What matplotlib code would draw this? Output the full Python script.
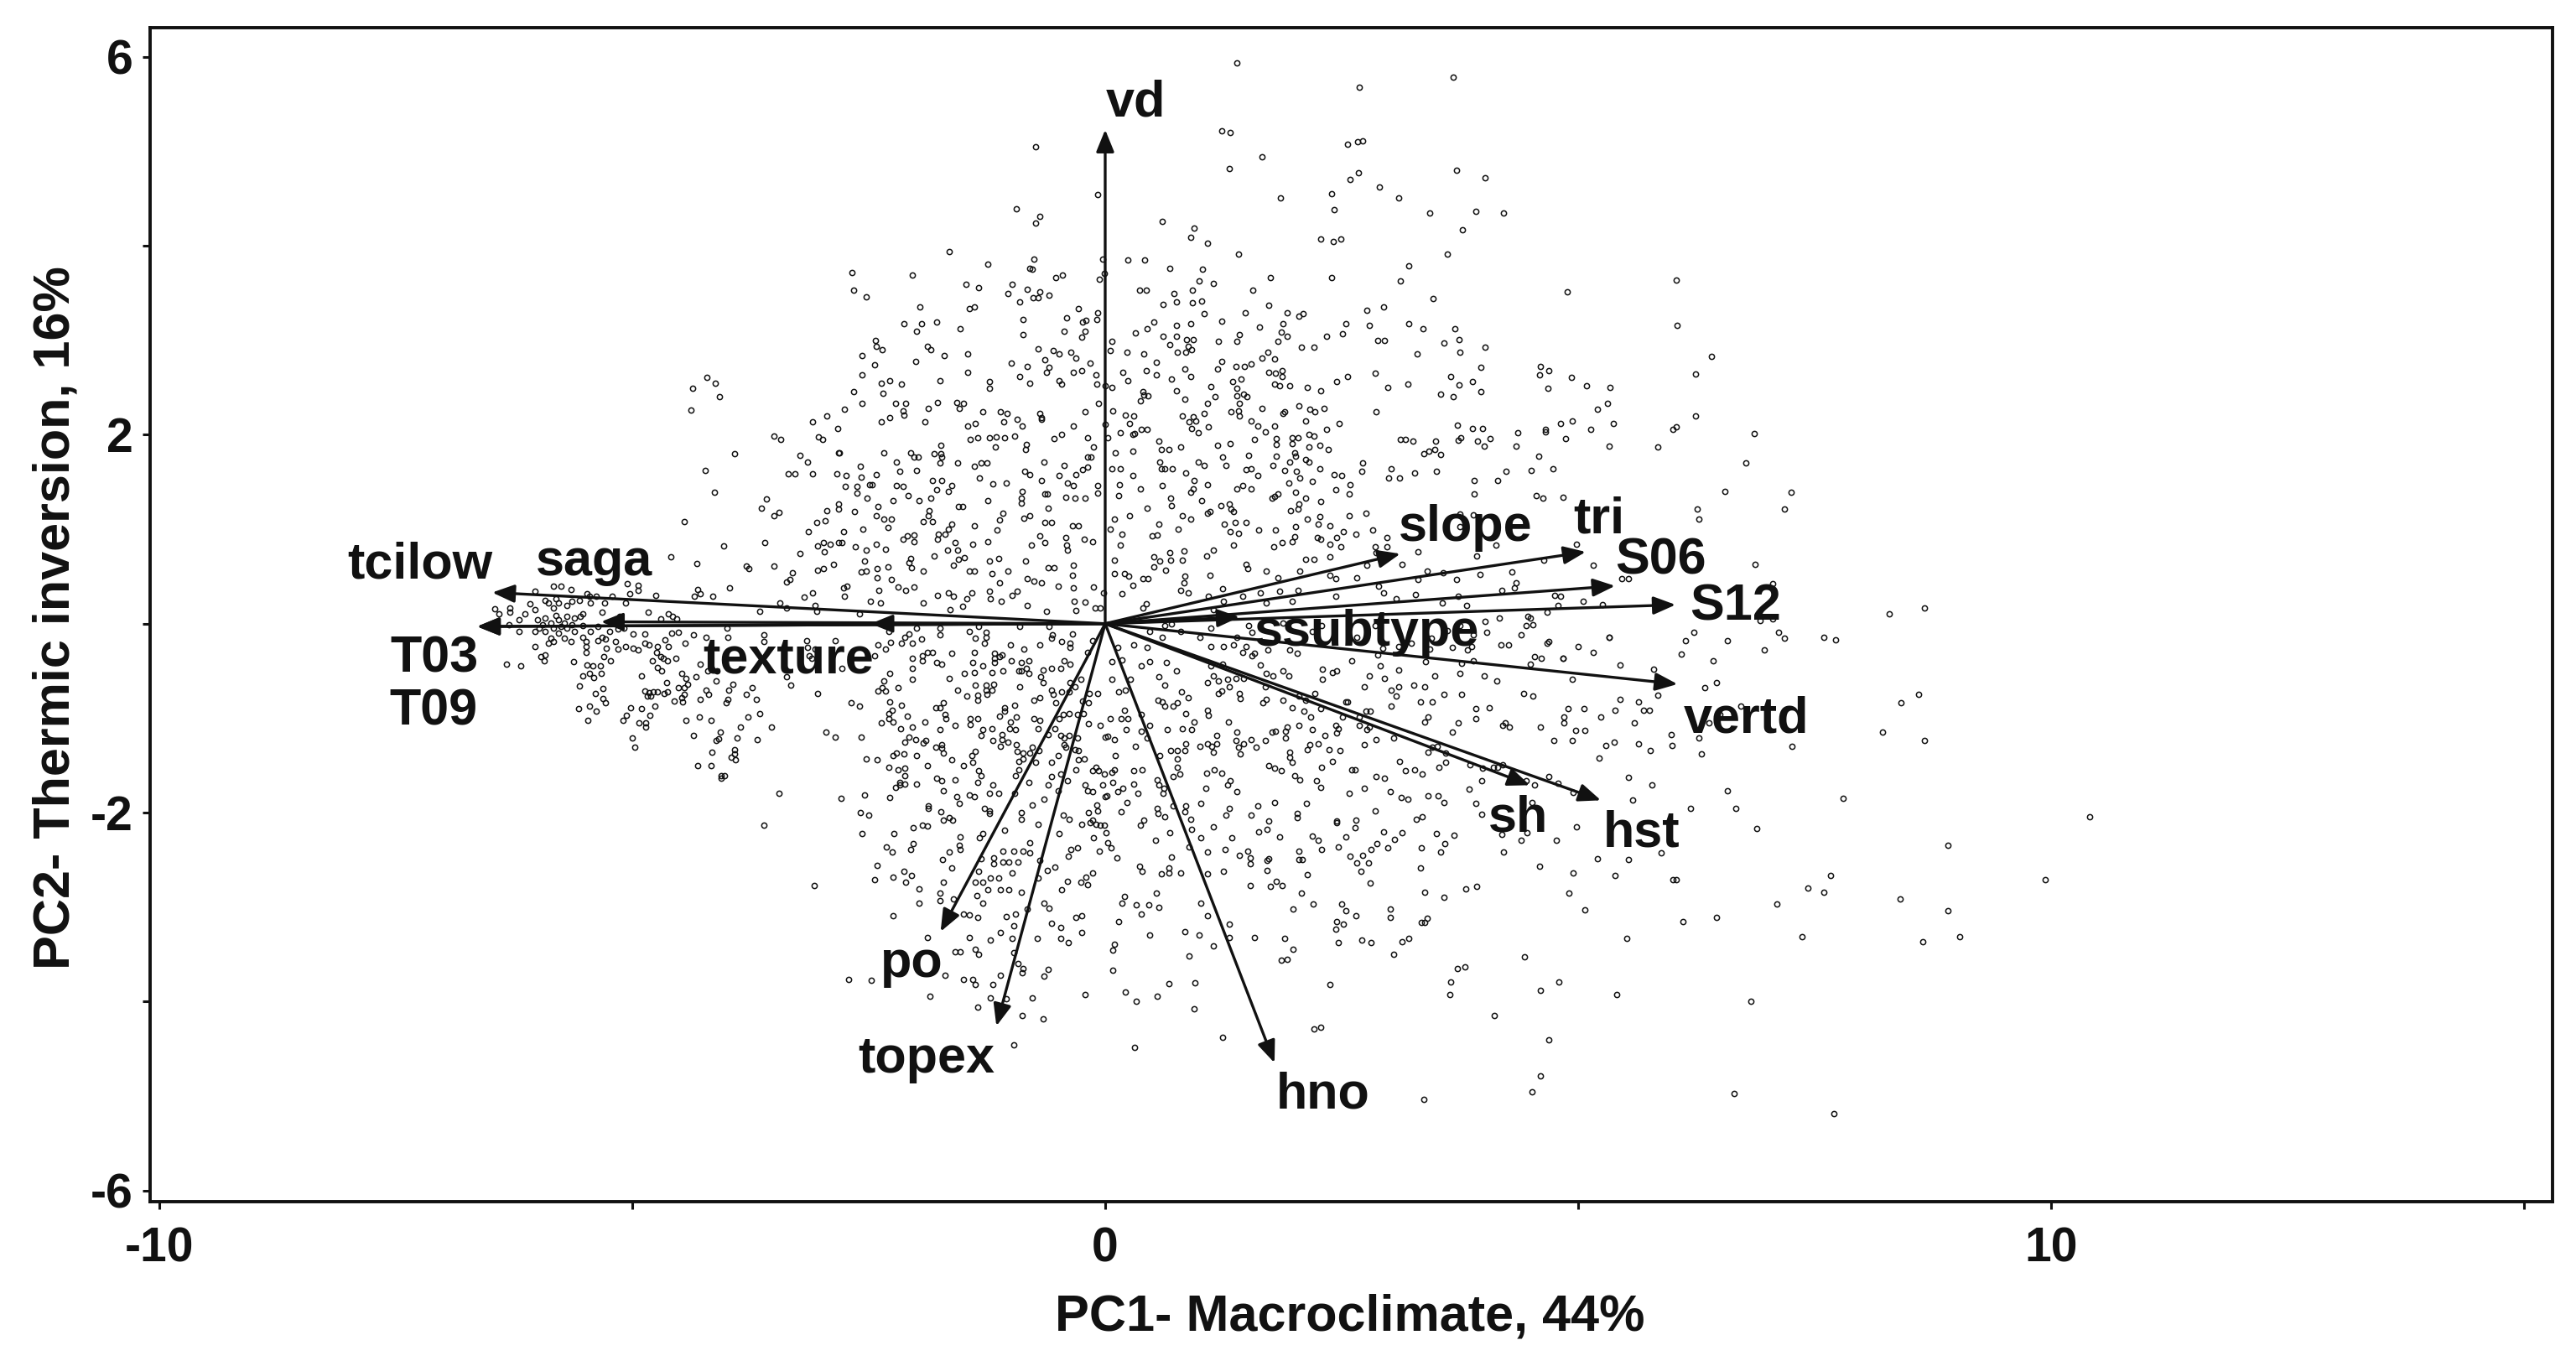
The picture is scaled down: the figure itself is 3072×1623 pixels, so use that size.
import numpy as np
import matplotlib
matplotlib.use("Agg")
import matplotlib.pyplot as plt

# Site scores (PC1, PC2), region by region
scores_top = [
(1.39,5.94),(3.68,5.79),(2.69,5.68),(-0.74,5.05),(1.23,5.22),(1.32,5.20),(2.72,5.11),(2.56,5.08),(2.67,5.10),(1.66,4.94),(1.31,4.82),(3.71,4.80),(4.02,4.72),(2.68,4.77),(2.59,4.70),(2.90,4.62),(2.39,4.55),(3.10,4.51),(1.85,4.51),(-0.08,4.54),(-0.94,4.39),(-0.69,4.31),(-0.74,4.24),(2.42,4.38),(3.43,4.35),(3.92,4.37),(4.21,4.35),(0.60,4.26),(3.78,4.17),(0.94,4.19),(0.90,4.09),(1.08,4.03),(2.28,4.07),(2.41,4.05),(2.49,4.07),(-1.65,3.94),(1.41,3.91),(3.62,3.91),(-0.03,3.86),(0.24,3.85),(0.42,3.85),(-0.75,3.86),(-1.24,3.81),(-2.04,3.69),(-2.68,3.72),(-0.80,3.76),(-0.77,3.75),(0.68,3.76),(1.03,3.75),(3.21,3.79),(3.12,3.63),(2.39,3.66),(1.75,3.66),(-0.06,3.65),(-0.01,3.71),(-0.52,3.66),(-0.45,3.69),(-2.66,3.53),(-2.53,3.46),(-1.47,3.59),(-1.34,3.56),(-0.98,3.59),(-1.03,3.50),(-0.82,3.54),(-0.69,3.51),(-0.76,3.45),(-0.71,3.45),(-0.59,3.48),(-0.90,3.41),(0.36,3.53),(0.43,3.53),(0.99,3.63),(1.14,3.60),(0.92,3.53),(0.73,3.50),(1.56,3.53),(3.47,3.44),(4.88,3.51),(1.02,3.42),(0.92,3.40),(0.75,3.41),(0.61,3.38),(-1.96,3.35),(-1.44,3.34),(-1.38,3.35),(1.73,3.37),(-0.28,3.34),(2.77,3.32),(2.94,3.35),(1.92,3.29),(2.09,3.28),(2.05,3.26),(1.48,3.29),(1.05,3.28),(-0.08,3.29),(-0.41,3.24),(-0.87,3.22),(-0.20,3.21),(-0.24,3.19),(-0.09,3.22),(0.51,3.19),(1.23,3.20),(-2.13,3.18),(-1.94,3.18),(-1.78,3.19),(1.88,3.18),(2.54,3.18),(2.79,3.16),(3.21,3.18),(0.75,3.16),(0.90,3.18),(1.63,3.14),
(-1.99,3.10),(-1.53,3.12),(-0.43,3.10),(-0.21,3.10),(3.36,3.12),(3.70,3.12),(0.44,3.12),(0.32,3.08),(-0.87,3.06),(-0.25,3.03),(0.61,3.04),(0.75,3.04),(1.42,3.06),(1.86,3.09),(1.92,3.04),(2.51,3.07),(2.34,3.04),(3.74,3.01),(-2.43,3.00),(-2.42,2.94),(-2.36,2.90),(0.07,2.99),(0.86,3.01),(0.93,3.01),(1.20,2.99),(1.39,2.99),(1.83,2.99),(2.88,3.00),(2.95,3.00),(3.58,2.97),(-1.88,2.94),(-1.84,2.90),(-0.71,2.91),(-0.55,2.89),(-0.49,2.86),(-0.36,2.87),(0.05,2.89),(0.23,2.87),(0.41,2.86),(0.68,2.95),(0.76,2.87),(0.85,2.87),(0.91,2.90),(0.88,2.94),(2.07,2.93),(2.21,2.93),(4.02,2.93),(3.30,2.86),(3.75,2.87),(-2.57,2.84),(-1.70,2.84),(-1.45,2.86),(-0.64,2.79),(-0.31,2.81),(0.54,2.77),(1.23,2.78),(1.66,2.81),(1.72,2.87),(1.79,2.80),(-2.00,2.78),(-0.99,2.76),(-0.16,2.76),(-2.44,2.74),(-0.82,2.72),(1.38,2.72),(1.54,2.75),(1.47,2.72),(3.97,2.71),(4.60,2.72),(4.69,2.68),(0.84,2.70),(1.19,2.70),(-0.59,2.71),
(-2.57,2.63),(-1.45,2.66),(-0.62,2.66),(-0.34,2.66),(-0.25,2.68),(0.19,2.66),(0.43,2.68),(0.54,2.63),(0.90,2.62),(1.73,2.66),(1.80,2.65),(1.87,2.68),(1.87,2.62),(2.85,2.65),(2.56,2.62),(3.65,2.62),(4.59,2.63),(4.93,2.61),(-0.10,2.63),(-0.90,2.62),(-2.37,2.55),(-2.28,2.57),(-1.75,2.57),(-1.22,2.56),(-2.15,2.54),(-0.80,2.55),(-0.49,2.57),(-0.46,2.54),(-0.09,2.54),(0.24,2.57),(0.70,2.59),(1.35,2.56),(1.44,2.59),(1.79,2.54),(2.45,2.56),(3.88,2.56),(-1.22,2.49),(0.00,2.52),(0.07,2.50),(1.12,2.51),(1.39,2.49),(1.84,2.52),(1.95,2.52),(2.14,2.50),(2.28,2.47),(2.99,2.50),(3.20,2.54),(3.74,2.53),(4.68,2.49),(5.09,2.52),(5.34,2.50),(-2.66,2.46),(-2.35,2.44),(0.75,2.47),(0.40,2.46),(3.97,2.46),(0.41,2.42),(0.45,2.41),(1.46,2.43),(1.50,2.40),(1.39,2.41),(1.16,2.40),(3.55,2.43),(3.68,2.40),(0.84,2.38),(0.37,2.36),(1.08,2.33),(-2.57,2.33),(-2.22,2.33),(-2.11,2.33),(-1.77,2.34),(-1.57,2.34),(-1.50,2.33),(-0.07,2.33),(1.42,2.33),(2.05,2.31),(5.31,2.33),(-2.76,2.27),(-2.14,2.25),(-1.87,2.28),(-1.54,2.28),(1.66,2.28),(2.16,2.27),(2.22,2.24),(2.31,2.28),(2.86,2.24),(5.20,2.27),(-1.29,2.24),(-1.11,2.24),(-1.04,2.23),(-0.69,2.23),(-0.21,2.24),(0.08,2.25),(1.05,2.23),(1.33,2.24),(1.41,2.25),(1.90,2.24),(1.88,2.23),(-2.13,2.21),(-0.67,2.18),(-0.67,2.16),(-2.28,2.18),(0.21,2.21),(0.30,2.20),(0.82,2.20),(0.93,2.19),(1.42,2.20),
]
scores_mid_upper = [
(-2.37,2.14),(-1.91,2.14),(-0.93,2.16),(-1.07,2.14),(-1.37,2.12),(0.26,2.12),(0.89,2.14),(0.96,2.15),(1.54,2.15),(2.12,2.15),(4.94,2.15),(4.81,2.12),(5.37,2.12),(-1.45,2.09),(-0.88,2.09),(-0.34,2.09),(1.61,2.09),(1.79,2.09),(2.47,2.12),(3.72,2.10),(3.88,2.07),(3.99,2.07),(4.65,2.06),(5.13,2.06),(0.91,2.07),(1.09,2.08),(0.00,2.11),(2.34,2.06),(6.00,2.06),(0.16,2.02),(0.29,2.00),(0.38,2.06),(0.44,2.06),(1.69,2.03),(0.98,2.02),(4.65,2.03),(-0.46,2.00),(-0.54,1.96),(-0.19,1.97),(0.03,1.97),(0.31,2.01),(2.15,2.00),(2.21,1.99),(1.98,1.97),(2.04,1.97),(4.36,2.02),(-1.43,1.95),(-1.35,1.97),(-1.22,1.97),(-1.15,1.98),(-1.06,1.97),(-0.96,1.99),(0.57,1.93),(1.81,1.96),(1.58,1.95),(3.12,1.95),(3.17,1.95),(3.25,1.93),(3.49,1.93),(4.07,1.96),(3.94,1.93),(3.76,1.97),(3.73,1.94),(4.87,1.96),(1.32,1.91),(1.81,1.90),(1.98,1.91),(5.33,1.88),(5.84,1.87),(4.34,1.88),(4.01,1.88),(1.19,1.89),(2.15,1.87),(2.27,1.89),(-1.74,1.89),(-1.16,1.87),(-0.83,1.90),(-0.84,1.84),(-0.12,1.87),(0.80,1.87),(-2.34,1.81),(-2.06,1.81),(-1.81,1.80),(-1.74,1.80),(-2.82,1.81),(0.11,1.81),(0.29,1.83),(0.59,1.84),(0.67,1.84),(2.00,1.81),(2.36,1.84),(3.48,1.84),(3.42,1.83),(3.37,1.80),(3.55,1.79),(-2.02,1.76),(-1.98,1.76),(-1.73,1.76),(-0.19,1.76),(-0.15,1.76),(1.24,1.76),(1.52,1.78),(1.81,1.77),(2.01,1.77),(2.12,1.74),(4.58,1.77),(-2.21,1.71),(-1.75,1.70),(-1.56,1.70),(-0.65,1.71),(0.58,1.71),(0.98,1.71),(1.95,1.71),(1.77,1.68),(2.72,1.70),(-1.31,1.70),(-1.25,1.70),(-1.38,1.67),(-0.43,1.68),(-0.19,1.66),(1.05,1.68),(1.28,1.68),(2.15,1.71),
(-2.59,1.67),(0.59,1.64),(-2.17,1.61),(-1.99,1.62),(-0.31,1.58),(-0.24,1.63),(0.07,1.64),(0.16,1.64),(0.63,1.64),(0.71,1.64),(1.49,1.63),(1.54,1.64),(1.61,1.57),(1.90,1.62),(2.02,1.61),(2.27,1.64),(3.02,1.64),(3.27,1.60),(3.50,1.61),(4.24,1.61),(4.50,1.62),(4.73,1.64),(2.71,1.61),(-0.85,1.61),(-0.80,1.58),(-0.49,1.57),(-2.58,1.55),(-2.42,1.58),(-2.74,1.57),(0.85,1.60),(2.42,1.58),(2.50,1.57),(-1.33,1.54),(-1.83,1.52),(-1.73,1.52),(3.00,1.54),(3.11,1.54),(2.06,1.54),(2.19,1.51),(1.94,1.49),(3.90,1.52),(4.15,1.52),(0.29,1.57),(0.94,1.52),(-0.67,1.52),(-0.40,1.49),(0.15,1.47),(-1.19,1.48),(-1.05,1.49),(-2.49,1.47),(-2.46,1.47),(-2.62,1.45),(-2.75,1.45),(-2.21,1.46),(-2.14,1.45),(-1.62,1.46),(-0.34,1.46),(-0.08,1.46),(0.60,1.46),(1.08,1.47),(2.59,1.47),(2.58,1.37),(0.93,1.43),(1.39,1.43),(1.45,1.46),(1.54,1.43),(2.44,1.42),(-0.88,1.40),(-1.66,1.40),(-1.78,1.42),(0.14,1.36),(0.37,1.43),(0.90,1.39),(2.01,1.39),(-0.64,1.37),(-0.61,1.37),(-2.08,1.36),(-2.52,1.33),(-2.62,1.38),(3.90,1.37),(-0.08,1.38),(-0.21,1.33),(-0.32,1.33),(-0.42,1.34),(-0.89,1.33),(0.69,1.33),(1.76,1.33),(1.83,1.37),(1.79,1.35),(2.12,1.33),(4.56,1.36),(4.63,1.33),(4.84,1.34),
(-2.24,1.30),(-1.97,1.30),(-1.84,1.33),(-1.24,1.30),(-0.89,1.28),(1.02,1.30),(2.28,1.29),(-2.40,1.24),(0.70,1.25),(1.22,1.25),(1.31,1.27),(2.05,1.27),(-1.55,1.24),(-1.51,1.24),(-0.60,1.22),(0.44,1.22),(1.33,1.21),(1.96,1.20),(2.04,1.21),(-2.82,1.21),(-2.65,1.19),(-1.86,1.20),(-1.08,1.17),(1.11,1.19),(1.08,1.17),(1.36,1.19),(2.76,1.17),(3.75,1.16),(-2.42,1.14),(-2.34,1.11),(-2.26,1.11),(-1.87,1.14),(0.26,1.14),(-0.86,1.12),(-0.80,1.14),(0.82,1.14),(0.90,1.11),(2.14,1.11),(2.27,1.13),(2.58,1.14),(3.89,1.15),(0.10,1.11),(-1.92,1.08),(-1.83,1.08),(-1.62,1.05),(-1.12,1.10),(-0.64,1.07),(-0.57,1.07),(-0.35,1.04),(-0.28,1.04),(0.57,1.05),(1.26,1.05),(1.37,1.07),(1.49,1.07),(2.01,1.03),(2.25,1.05),(2.38,1.04),(-2.30,1.02),(-1.38,1.04),(0.77,1.00),(-2.56,1.00),(-1.66,1.00),(0.05,1.00),(-1.14,0.99),(1.80,0.99),(1.62,0.99),(2.83,0.99),(3.75,1.03),(1.32,0.97),(1.41,0.96),(2.52,0.97),(0.18,0.95),(0.55,0.94),(2.65,0.95),(-2.02,0.94),(-2.09,0.93),(-1.76,0.95),(-1.69,0.95),(-0.69,0.93),(-2.77,0.97),(-0.42,0.91),(2.24,0.91),(2.45,0.91),(2.00,0.92),(0.50,0.93),(-2.14,0.89),(-2.02,0.87),(-1.77,0.89),(-0.22,0.89),(-0.13,0.87),(-1.24,0.87),(1.87,0.86),(1.98,0.87),(2.28,0.89),(2.98,0.91),(-2.78,0.86),(-2.42,0.84),(-2.64,0.81),(-1.59,0.86),(-1.40,0.84),(-0.78,0.83),(-0.64,0.86),(-0.41,0.83),(0.16,0.83),(1.36,0.83),(1.78,0.81),(2.38,0.84),(4.13,0.83),(4.98,0.84),(2.49,0.81),
(-2.53,0.78),(-2.32,0.79),(-1.67,0.78),(-1.56,0.78),(-0.40,0.78),(1.14,0.78),(2.98,0.81),(2.85,0.81),(3.31,0.76),(0.68,0.75),(0.83,0.77),(3.93,0.72),(-2.06,0.69),(-1.81,0.72),(-1.49,0.70),(-1.55,0.68),(-1.13,0.69),(-1.22,0.66),(0.10,0.67),(0.51,0.71),(1.07,0.72),(2.86,0.75),(2.12,0.68),(2.21,0.68),(2.38,0.71),(2.77,0.62),(-2.54,0.66),(-2.07,0.65),(0.58,0.66),(0.69,0.67),(0.82,0.67),(-0.84,0.66),(-0.34,0.62),(1.49,0.63),(3.14,0.63),(4.64,0.67),(5.16,0.62),(-2.30,0.60),(-2.41,0.58),(-2.05,0.59),(-1.60,0.62),(0.51,0.60),(0.64,0.57),(1.51,0.58),(2.06,0.56),(3.40,0.56),(3.96,0.52),(4.30,0.55),(-2.58,0.55),(-2.53,0.56),(-1.92,0.56),(-1.44,0.56),(-1.38,0.56),(-1.20,0.53),(-1.03,0.56),(-0.60,0.59),(-0.54,0.59),(-0.35,0.51),(0.10,0.53),(0.20,0.53),(1.70,0.56),(2.38,0.51),(3.57,0.54),(-2.26,0.47),(-2.41,0.49),(-0.82,0.48),(0.25,0.50),(0.40,0.48),(0.45,0.48),(0.84,0.50),(1.11,0.51),(1.83,0.49),(2.44,0.48),(2.66,0.49),(3.71,0.47),(3.31,0.47),(5.46,0.48),(5.53,0.48),(-2.73,0.40),(-2.77,0.38),(-2.19,0.39),(-2.02,0.39),(-1.12,0.43),(-0.75,0.45),(-0.67,0.43),(-0.50,0.40),(-0.34,0.38),(-0.12,0.39),(0.29,0.41),(0.83,0.43),(2.89,0.40),(4.34,0.43),(-2.11,0.35),(-2.39,0.35),(-1.66,0.33),(-1.41,0.33),(-1.22,0.34),(-0.93,0.34),(-0.98,0.30),(-0.02,0.33),(0.18,0.32),(0.80,0.35),(0.88,0.33),(1.24,0.37),(4.19,0.35),(4.33,0.38),(3.73,0.29),(1.64,0.33),(1.84,0.34),(2.04,0.35),(2.94,0.33),(3.28,0.31),(4.75,0.30),(4.81,0.29),(-2.76,0.29),(-2.48,0.24),(-2.38,0.22),(-1.92,0.22),(-1.77,0.30),(-1.60,0.29),(-1.46,0.26),(-1.10,0.24),(-1.21,0.26),(-0.82,0.19),(-0.33,0.24),(1.09,0.29),(1.25,0.24),(1.45,0.29),(1.70,0.22),(1.98,0.24),(2.44,0.29),(3.08,0.26),(3.56,0.22),(3.82,0.19),(5.05,0.24),(5.26,0.20),(4.79,0.19),(-1.51,0.18),(-1.64,0.15),(-2.60,0.10),(-0.21,0.23),(-0.11,0.17),(-0.05,0.17),(-0.31,0.14),(-0.62,0.13),(0.40,0.17),(0.43,0.21),(1.14,0.15),(4.67,0.12),(4.17,0.06),(4.47,0.08),(4.49,0.06),
]
scores_far_left = [
(-4.21,2.61),(-4.12,2.55),(-4.36,2.49),(-4.08,2.40),(-4.38,2.26),(-3.09,2.14),(-2.94,2.20),(-2.83,2.07),(-3.50,1.99),(-3.43,1.95),(-3.03,1.98),(-2.99,1.95),(-3.92,1.80),(-3.23,1.78),(-3.15,1.71),(-2.81,1.81),(-4.23,1.62),(-3.35,1.59),(-3.28,1.59),(-3.09,1.59),(-2.84,1.59),(-4.13,1.39),(-3.58,1.32),(-3.63,1.22),(-3.45,1.18),(-3.50,1.14),(-2.94,1.20),(-2.82,1.27),(-3.05,1.07),(-2.96,1.09),(-4.45,1.08),(-3.14,0.97),(-2.82,0.86),(-3.60,0.86),(-4.03,0.82),(-2.98,0.86),(-2.91,0.84),(-3.04,0.82),(-2.97,0.76),(-3.23,0.74),(-4.59,0.71),(-4.32,0.64),(-3.79,0.61),(-3.77,0.58),(-3.50,0.61),(-3.31,0.54),(-3.04,0.57),(-2.98,0.58),(-2.87,0.63),(-3.37,0.44),(-3.33,0.47),(-3.97,0.38),(-5.83,0.40),(-5.75,0.40),(-5.05,0.42),(-4.94,0.41),(-4.94,0.35),(-5.03,0.32),(-6.03,0.34),(-5.65,0.36),(-5.48,0.32),(-4.31,0.36),(-4.34,0.29),(-4.28,0.32),(-4.15,0.29),(-3.09,0.33),(-3.18,0.28),(-4.75,0.30),(-5.21,0.29),(-5.38,0.29),(-5.45,0.29),(-5.56,0.25),(-5.92,0.25),(-5.81,0.26),(-5.64,0.24),(-5.29,0.22),(-5.44,0.22),(-6.08,0.21),(-6.29,0.17),(-6.45,0.16),(-5.07,0.22),(-6.03,0.15),(-5.89,0.22),(-5.78,0.22),(-5.69,0.19),(-5.83,0.17),(-3.44,0.22),(-3.37,0.17),(-3.07,0.19),(-3.05,0.13),(-3.65,0.13),(-6.41,0.10),(-6.29,0.12),(-6.13,0.10),(-4.83,0.12),(-5.52,0.10),(-5.32,0.12),(-5.13,0.08),(-4.62,0.10),(-4.57,0.08),(-4.70,0.05),(-4.53,0.05),
(-6.30,-0.01),(-6.20,0.04),(-6.00,0.04),(-5.92,0.06),(-5.81,0.09),(-5.69,0.08),(-5.61,0.06),(-5.55,0.08),(-5.95,-0.01),(-5.86,0.01),(-5.78,0.04),(-5.72,0.01),(-5.64,-0.01),(-5.52,-0.02),(-5.83,-0.05),(-5.75,-0.03),(-5.69,-0.05),(-6.03,-0.08),(-5.98,-0.05),(-5.92,-0.08),(-6.20,-0.08),(-5.61,-0.08),(-5.78,-0.10),(-5.86,-0.15),(-5.72,-0.15),(-5.65,-0.19),(-5.89,-0.21),(-5.83,-0.19),(-6.03,-0.24),(-5.44,-0.08),(-5.36,-0.03),(-5.24,-0.08),(-5.15,-0.06),(-5.09,-0.05),(-4.99,-0.11),(-4.87,-0.11),(-5.52,-0.14),(-5.32,-0.14),(-5.28,-0.16),(-5.49,-0.19),(-5.49,-0.24),(-5.49,-0.30),(-5.36,-0.18),(-5.27,-0.26),(-5.18,-0.19),(-5.15,-0.27),(-5.30,-0.35),(-5.23,-0.39),(-5.07,-0.24),(-4.99,-0.26),(-4.94,-0.28),(-4.87,-0.21),(-4.82,-0.22),(-4.73,-0.24),(-4.65,-0.17),(-4.62,-0.24),(-5.97,-0.35),(-5.92,-0.33),(-5.93,-0.39),(-5.62,-0.40),(-6.33,-0.43),(-6.18,-0.45),(-5.48,-0.44),(-5.42,-0.45),(-5.34,-0.45),(-4.74,-0.30),(-4.70,-0.35),(-4.67,-0.37),(-4.79,-0.39),(-4.63,-0.39),(-4.73,-0.46),
(-5.52,-0.55),(-5.45,-0.53),(-5.41,-0.57),(-5.33,-0.53),(-5.56,-0.66),(-5.31,-0.69),(-5.39,-0.74),(-5.31,-0.79),(-5.28,-0.84),(-5.45,-0.87),(-5.57,-0.90),(-5.38,-0.93),(-5.47,-1.02),(-5.10,-1.02),(-5.06,-0.97),(-5.02,-0.89),(-4.90,-0.90),(-4.93,-1.05),(-4.86,-1.05),(-4.86,-1.09),(-4.81,-0.97),(-5.00,-1.21),(-4.97,-1.31),(-4.90,-0.55),(-4.87,-0.71),(-4.84,-0.77),(-4.80,-0.77),(-4.82,-0.73),(-4.78,-0.72),(-4.73,-0.72),(-4.76,-0.87),(-4.66,-0.74),(-4.63,-0.72),(-4.64,-0.62),(-4.69,-0.50),(-3.61,-2.13),(-3.08,-2.77),
]
scores_band_right = [
(0.47,-0.08),(0.63,-0.02),(0.70,0.00),(0.80,-0.08),(1.12,-0.05),(1.00,-0.14),(1.39,-0.14),(1.52,-0.02),(1.55,-0.09),(1.88,0.01),(2.29,-0.02),(2.19,-0.08),(2.66,-0.14),(2.85,-0.02),(3.45,-0.15),(3.62,-0.07),(3.75,-0.02),(3.89,-0.12),(4.03,-0.09),(4.02,0.02),(4.45,-0.02),(4.52,-0.01),(4.40,-0.12),(0.60,-0.14),(0.13,-0.25),(0.30,-0.22),(0.44,-0.25),(1.12,-0.24),(1.25,-0.24),(1.36,-0.22),(1.49,-0.24),(1.45,-0.30),(1.58,-0.31),(1.55,-0.34),(1.72,-0.28),(1.95,-0.28),(2.03,-0.31),(2.93,-0.26),(3.10,-0.24),(3.24,-0.21),(3.43,-0.27),(3.67,-0.25),(3.83,-0.28),(3.87,-0.24),(4.18,-0.22),(4.26,-0.22),(2.88,-0.33),(2.61,-0.39),(3.39,-0.40),(3.77,-0.42),(3.89,-0.39),(4.49,-0.43),(4.54,-0.35),(4.61,-0.37),(0.07,-0.40),(0.18,-0.38),(0.38,-0.45),(0.47,-0.40),(0.65,-0.41),(0.75,-0.50),(1.12,-0.45),(1.24,-0.43),(1.64,-0.44),(2.91,-0.45),(3.10,-0.49),(2.30,-0.48),(2.40,-0.52),(2.45,-0.50),(0.57,-0.56),(0.07,-0.59),(0.27,-0.59),(0.63,-0.65),(1.08,-0.62),(1.14,-0.55),(1.20,-0.61),(1.29,-0.59),(1.38,-0.58),(1.46,-0.58),(1.70,-0.53),(1.77,-0.55),(1.88,-0.50),(1.94,-0.55),(2.30,-0.59),(2.79,-0.55),(2.95,-0.58),(3.48,-0.55),(3.75,-0.53),(4.01,-0.55),(4.14,-0.61),(1.69,-0.67),
(0.14,-0.72),(0.21,-0.70),(0.81,-0.72),(0.88,-0.78),(1.31,-0.67),(1.23,-0.71),(1.20,-0.74),(1.42,-0.74),(1.43,-0.79),(2.74,-0.67),(3.02,-0.70),(3.10,-0.67),(3.08,-0.77),(3.26,-0.65),(3.38,-0.67),(3.58,-0.75),(3.77,-0.75),(4.42,-0.74),(4.52,-0.77),(2.22,-0.74),(3.33,-0.83),(3.46,-0.83),(0.56,-0.81),(0.60,-0.83),(0.63,-0.87),(0.72,-0.87),(0.76,-0.84),(1.70,-0.80),(1.67,-0.84),(1.88,-0.81),(2.05,-0.77),(2.12,-0.81),(2.54,-0.83),(2.56,-0.83),(3.02,-0.87),(3.92,-0.90),(4.06,-0.89),(0.20,-0.92),(1.08,-0.92),(1.09,-0.97),(0.85,-0.95),(0.94,-1.04),(1.98,-0.89),(2.10,-0.93),(2.28,-0.90),(2.17,-0.99),(2.51,-0.99),(2.76,-0.93),(2.80,-0.93),(2.69,-0.99),(3.41,-0.99),(3.38,-1.04),(3.92,-1.01),(0.05,-1.01),(0.17,-1.01),(0.24,-1.01),(0.38,-0.96),(1.30,-1.04),(3.73,-1.05),(4.23,-1.05),(4.20,-1.08),(4.27,-1.09),(4.60,-1.09),(0.47,-1.08),(0.22,-1.12),(0.38,-1.14),(0.66,-1.12),(0.82,-1.11),(0.91,-1.12),(2.05,-1.08),(1.92,-1.09),(1.91,-1.14),(1.80,-1.14),(1.76,-1.15),(2.19,-1.12),(2.44,-1.08),(2.46,-1.11),(2.69,-1.08),(2.79,-1.09),(2.77,-1.12),(3.67,-1.15),(0.03,-1.19),(0.10,-1.23),(0.44,-1.21),(1.18,-1.18),(1.39,-1.15),(2.32,-1.18),(2.45,-1.16),(1.91,-1.21),(3.05,-1.21),(2.86,-1.23),
(0.85,-1.27),(1.08,-1.27),(1.00,-1.30),(1.13,-1.30),(1.18,-1.27),(1.38,-1.24),(1.46,-1.27),(1.54,-1.23),(1.69,-1.24),(2.16,-1.28),(2.25,-1.27),(2.74,-1.28),(3.41,-1.36),(3.51,-1.30),(0.32,-1.30),(0.69,-1.34),(0.76,-1.34),(0.84,-1.34),(1.14,-1.36),(1.41,-1.31),(1.60,-1.31),(2.14,-1.33),(2.37,-1.33),(2.48,-1.34),(3.46,-1.31),(3.60,-1.37),(0.11,-1.40),(0.58,-1.40),(0.76,-1.43),(1.43,-1.38),(1.95,-1.36),(1.95,-1.41),(1.98,-1.47),(2.40,-1.46),(3.11,-1.46),(3.60,-1.47),(3.86,-1.49),(0.76,-1.52),(1.73,-1.50),(1.79,-1.53),(1.86,-1.56),(2.29,-1.52),(2.61,-1.55),(2.64,-1.55),(3.53,-1.52),(3.99,-1.53),(4.10,-1.52),(4.15,-1.52),(4.20,-1.49),(0.10,-1.55),(0.07,-1.57),(0.30,-1.56),(0.39,-1.55),(0.79,-1.59),(0.72,-1.62),(1.07,-1.58),(1.15,-1.55),(1.23,-1.58),(2.00,-1.61),(2.06,-1.65),(2.86,-1.62),(2.95,-1.64),(3.17,-1.56),(3.27,-1.55),(3.35,-1.59),(2.23,-1.66),(2.28,-1.73),(0.08,-1.68),(0.30,-1.70),(0.55,-1.65),(0.57,-1.71),(0.62,-1.74),(1.32,-1.66),(1.29,-1.71),(1.06,-1.74),(0.19,-1.74),(0.13,-1.78),(2.74,-1.74),(3.01,-1.78),(3.98,-1.66),(3.85,-1.75),(4.45,-1.66),(4.54,-1.71),(0.35,-1.80),(0.61,-1.80),(1.39,-1.78),(2.58,-1.80),(3.13,-1.84),(3.20,-1.86),(3.41,-1.82),(3.52,-1.82),(3.58,-1.89),(0.02,-1.82),(0.23,-1.89),(1.01,-1.90),(1.79,-1.89),(2.13,-1.90),(3.92,-1.90),(4.51,-1.89),(1.61,-1.93),(0.72,-1.93),(0.85,-1.93),(0.55,-1.96),(0.84,-1.99),(1.31,-1.96),(2.85,-1.98),(0.17,-1.99),(0.56,-2.01),(0.63,-2.04),(1.28,-2.03),(1.54,-2.03),(2.03,-2.01),(2.03,-2.05),(3.98,-2.02),(3.35,-2.04),(0.90,-2.07),(0.41,-2.08),(3.29,-2.07),(2.65,-2.08),(2.45,-2.09),(1.73,-2.09),
]
scores_band_left = [
(-4.51,-0.09),(-4.58,-0.10),(-4.35,-0.12),(-4.44,-0.21),(-4.22,-0.14),(-3.99,-0.14),(-4.00,-0.05),(-3.61,-0.12),(-3.61,-0.19),(-3.16,-0.18),(-2.85,-0.18),(-4.54,-0.37),(-4.28,-0.43),(-4.20,-0.50),(-4.10,-0.50),(-3.07,-0.27),(-3.15,-0.25),(-3.13,-0.34),(-3.10,-0.37),(-2.78,-0.47),(-2.44,-0.34),(-2.40,-0.22),(-2.32,-0.27),(-2.27,-0.20),(-2.29,-0.08),(-2.15,-0.21),(-2.12,-0.14),(-2.07,-0.11),(-2.04,-0.21),(-1.99,-0.05),(-1.94,-0.16),(-1.75,-0.05),(-1.75,-0.12),(-1.44,-0.08),(-1.34,-0.03),(-1.37,-0.15),(-1.26,-0.09),(-1.26,-0.14),(-1.28,-0.21),(-0.90,-0.03),(-0.59,-0.03),(-0.57,-0.15),(-0.56,-0.12),(-0.35,-0.11),(-0.46,-0.19),(-0.37,-0.21),(-0.37,-0.25),(-0.13,-0.18),(-0.19,-0.30),(-0.69,-0.22),(-0.86,-0.27),(-1.00,-0.22),(-1.88,-0.30),(-1.83,-0.30),(-1.93,-0.34),(-1.93,-0.39),(-1.62,-0.31),(-1.78,-0.41),(-1.73,-0.43),(-1.38,-0.30),(-1.17,-0.31),(-1.09,-0.33),(-1.12,-0.35),(-1.17,-0.37),(-1.17,-0.41),(-1.40,-0.41),(-1.29,-0.45),(-0.99,-0.39),(-0.89,-0.41),(-0.81,-0.39),(-0.83,-0.47),(-0.91,-0.50),(-0.89,-0.50),(-0.81,-0.53),(-0.43,-0.39),(-0.37,-0.43),(-2.04,-0.37),(-2.04,-0.47),(-0.57,-0.47),(-0.47,-0.47),
(-4.48,-0.53),(-4.43,-0.58),(-4.33,-0.56),(-4.41,-0.64),(-4.51,-0.68),(-4.45,-0.68),(-4.22,-0.70),(-4.11,-0.61),(-3.94,-0.64),(-3.98,-0.70),(-3.37,-0.56),(-3.32,-0.65),(-3.73,-0.68),(-4.19,-0.75),(-3.79,-0.75),(-3.04,-0.74),(-4.45,-0.75),(-4.48,-0.78),(-4.56,-0.82),(-4.47,-0.83),(-4.28,-0.80),(-3.99,-0.80),(-4.01,-0.84),(-3.69,-0.80),(-2.28,-0.53),(-2.34,-0.61),(-2.40,-0.71),(-2.36,-0.68),(-2.32,-0.71),(-2.19,-0.68),(-2.04,-0.59),(-1.65,-0.58),(-1.49,-0.53),(-1.38,-0.52),(-1.20,-0.52),(-1.08,-0.50),(-1.37,-0.65),(-1.26,-0.65),(-1.18,-0.64),(-1.20,-0.70),(-1.26,-0.70),(-0.90,-0.67),(-0.66,-0.49),(-0.68,-0.56),(-0.66,-0.62),(-0.37,-0.62),(-0.26,-0.59),(-0.32,-0.67),(-0.57,-0.70),(-0.46,-0.72),(-0.55,-0.75),(-0.38,-0.72),(-0.17,-0.74),(-0.08,-0.74),(-1.56,-0.70),(-1.46,-0.77),(-1.35,-0.76),(-1.35,-0.81),(-1.25,-0.75),(-0.75,-0.81),(-0.69,-0.78),(-0.52,-0.84),(-0.24,-0.82),(-0.18,-0.84),(-2.69,-0.84),(-2.60,-0.87),(-2.28,-0.83),(-2.15,-0.86),(-1.79,-0.89),(-1.75,-0.89),(-1.71,-0.84),(-1.06,-0.89),(-0.96,-0.86),(-1.06,-0.93),
(-4.29,-0.99),(-4.43,-1.02),(-4.17,-1.02),(-3.78,-0.99),(-3.65,-0.95),(-2.25,-0.92),(-2.29,-0.95),(-2.29,-1.01),(-2.09,-0.98),(-1.69,-0.96),(-1.68,-1.01),(-1.91,-1.04),(-2.37,-1.05),(-2.24,-1.04),(-1.43,-1.01),(-1.35,-1.01),(-1.43,-1.07),(-1.12,-0.98),(-0.94,-0.99),(-1.00,-1.04),(-0.75,-1.01),(-0.69,-1.02),(-0.44,-0.96),(-0.38,-0.95),(-0.49,-1.01),(-0.29,-0.96),(-0.23,-0.95),(-3.86,-1.09),(-3.53,-1.09),(-2.16,-1.11),(-2.04,-1.09),(-1.75,-1.12),(-1.59,-1.08),(-1.29,-1.12),(-1.20,-1.11),(-1.01,-1.11),(-0.95,-1.12),(-0.71,-1.11),(-0.53,-1.11),(-0.18,-1.06),(-0.05,-1.08),(-4.35,-1.18),(-4.07,-1.15),(-2.95,-1.15),(-2.85,-1.20),(-2.58,-1.20),(-1.31,-1.18),(-1.09,-1.17),(-0.60,-1.17),(-0.47,-1.18),(-0.38,-1.18),(0.00,-1.20),(-4.11,-1.24),(-4.09,-1.22),(-3.89,-1.21),(-3.68,-1.23),(-2.07,-1.20),(-2.12,-1.25),(-2.00,-1.23),(-1.92,-1.26),(-1.90,-1.24),(-1.19,-1.24),(-1.09,-1.23),(-1.03,-1.25),(-1.11,-1.30),(-0.94,-1.28),(-0.43,-1.21),(-0.43,-1.28),(-0.29,-1.21),(-1.79,-1.31),(-1.73,-1.28),(-1.73,-1.32),(-1.71,-1.37),(-0.93,-1.35),(-0.77,-1.31),(-0.87,-1.37),(-0.80,-1.37),(-0.70,-1.34),(-0.42,-1.31),(-0.32,-1.33),(-0.28,-1.34),(-4.16,-1.36),(-3.92,-1.33),(-3.92,-1.38),(-3.95,-1.41),(-3.91,-1.44),
(-2.53,-1.43),(-2.41,-1.44),(-2.24,-1.40),(-2.21,-1.37),(-2.13,-1.38),(-1.99,-1.40),(-1.62,-1.44),(-1.37,-1.35),(-1.41,-1.40),(-1.40,-1.47),(-0.91,-1.46),(-0.87,-1.43),(-0.74,-1.47),(-0.50,-1.40),(-0.57,-1.47),(-0.28,-1.44),(-0.22,-1.43),(-4.31,-1.50),(-4.17,-1.50),(-2.29,-1.52),(-2.19,-1.55),(-2.12,-1.53),(-1.88,-1.50),(-1.50,-1.50),(-1.34,-1.56),(-0.91,-1.55),(-0.31,-1.55),(-0.10,-1.52),(-0.13,-1.56),(-0.07,-1.56),(-0.01,-1.59),(-0.47,-1.59),(-2.12,-1.61),(-4.06,-1.61),(-4.02,-1.61),(-4.06,-1.64),(-1.78,-1.64),(-1.73,-1.66),(-1.59,-1.65),(-1.31,-1.61),(-0.95,-1.61),(-0.57,-1.62),(-0.40,-1.66),(-0.81,-1.68),(-2.22,-1.73),(-2.17,-1.68),(-2.17,-1.71),(-2.12,-1.70),(-1.99,-1.70),(-1.35,-1.68),(-1.19,-1.71),(-0.60,-1.71),(-0.21,-1.71),(-0.03,-1.71),(-0.19,-1.77),(-0.13,-1.78),(-0.50,-1.77),(-1.71,-1.77),(-3.45,-1.80),(-2.79,-1.85),(-2.54,-1.81),(-2.28,-1.84),(-1.57,-1.83),(-1.44,-1.81),(-1.38,-1.83),(-1.22,-1.80),(-1.13,-1.80),(-0.96,-1.80),(-0.65,-1.86),(-0.00,-1.83),(-1.54,-1.90),(-0.77,-1.92),(-1.87,-1.93),(-1.87,-1.96),(-1.74,-1.99),(-1.28,-1.96),(-1.22,-1.98),(-1.22,-2.01),(-0.89,-2.00),(-2.59,-2.00),(-2.50,-2.03),(-1.65,-2.05),(-1.71,-2.08),(-1.61,-2.08),(-0.89,-2.07),(-0.44,-2.03),(-0.09,-1.92),(-0.08,-1.98),(-0.18,-2.00),(-0.13,-2.08),(-0.38,-2.07),
]
scores_right = [
(5.44,-0.80),(5.64,-0.83),(5.84,-0.76),(4.89,-0.90),(5.06,-0.90),(5.39,-0.92),(5.69,-0.92),(5.75,-0.92),(4.85,-0.99),(5.24,-0.99),(4.85,-1.05),(5.59,-1.05),(4.97,-1.13),(5.07,-1.13),(4.74,-1.24),(4.94,-1.24),(5.29,-1.29),(5.38,-1.25),(5.64,-1.27),(5.76,-1.34),(5.98,-1.17),(5.99,-1.29),(5.22,-1.42),(5.53,-1.63),(5.78,-1.71),(4.69,-1.62),(4.79,-1.69),(4.95,-1.79),(5.58,-1.87),(5.00,-0.24),(4.84,-0.37),(5.16,-0.30),(5.33,-0.14),(5.44,-0.44),(5.80,-0.48),(4.94,-0.59),(4.69,-0.19),(4.67,-0.21),(5.33,-0.14),(4.84,-0.37),(4.19,-2.23),(4.46,-2.21),(4.40,-2.29),(4.77,-2.29),(4.98,-2.15),(4.21,-2.42),(4.59,-2.57),(5.20,-2.49),(5.53,-2.50),(4.95,-2.64),(5.39,-2.67),(5.88,-2.43),(6.00,-2.71),(4.90,-2.85),(5.07,-3.03),(5.51,-3.33),(4.43,-3.53),(4.60,-3.88),(4.80,-3.79),(5.41,-3.93),(4.11,-4.15),(4.69,-4.41),(4.60,-4.79),(4.51,-4.96),(3.37,-5.04),(3.72,-3.65),(3.80,-3.63),(3.65,-3.79),(3.64,-3.93),(3.81,-2.81),(3.93,-2.78),(3.58,-2.90),(3.38,-2.84),(3.40,-3.12),(3.38,-3.16),(3.34,-3.16),(3.01,-3.02),(3.01,-3.11),(3.14,-3.37),(3.21,-3.33),(3.05,-3.50),(2.81,-3.38),(2.71,-3.35),(2.46,-3.38),(2.45,-3.15),(2.52,-3.18),(2.44,-3.23),(2.50,-2.97),(2.54,-3.04),(2.65,-3.09),(2.38,-3.82),(2.28,-4.27),(2.21,-4.29),
(6.04,3.64),(6.05,3.16),(6.41,2.83),(6.24,2.64),(6.24,2.20),(6.04,2.08),(6.86,2.01),(6.77,1.70),(6.55,1.40),(7.25,1.39),(6.26,1.21),(6.28,1.11),(7.18,1.21),(6.87,0.63),(7.06,0.42),(6.92,0.03),(7.06,0.05),(8.29,0.10),(8.66,0.17),(6.22,-0.09),(6.13,-0.18),(6.58,-0.18),(6.09,-0.32),(6.43,-0.39),(6.97,-0.28),(7.12,-0.09),(7.18,-0.15),(7.60,-0.14),(7.72,-0.17),
(6.34,-0.68),(6.46,-0.62),(6.72,-0.87),(6.38,-1.05),(6.50,-0.96),(6.28,-1.21),(6.30,-1.38),(7.26,-1.30),(8.22,-1.15),(8.41,-0.84),(8.60,-0.75),(8.66,-1.24),(6.58,-1.77),(6.19,-1.96),(6.67,-1.96),(6.89,-2.17),(7.80,-1.85),(8.91,-2.35),(10.41,-2.04),(7.67,-2.67),(7.43,-2.80),(7.60,-2.84),(7.10,-2.97),(9.94,-2.71),(8.40,-2.91),(8.91,-3.04),(6.46,-3.11),(6.11,-3.15),(7.37,-3.31),(8.64,-3.37),(9.03,-3.31),(6.83,-4.00),(6.65,-4.97),(7.70,-5.19),(6.04,-2.71),
]
scores_low_centre = [
(1.90,-3.33),(1.99,-3.45),(1.92,-3.55),(1.86,-3.56),(1.58,-3.32),(1.31,-3.18),(1.31,-3.32),(1.14,-3.41),(0.99,-3.30),(0.84,-3.26),(0.89,-3.52),(0.67,-3.81),(0.95,-3.80),(0.94,-4.08),(0.55,-3.94),(0.21,-3.90),(0.33,-4.00),(-0.21,-3.93),(0.08,-3.67),(0.08,-3.46),(0.10,-3.39),(0.47,-3.30),(1.24,-4.38),(0.31,-4.49),(-0.97,-4.46),(-0.88,-4.15),(-0.66,-4.18),(-0.77,-3.96),(-1.05,-3.97),(-1.21,-3.96),(-1.35,-4.06),(-1.85,-3.94),(-2.71,-3.77),(-2.47,-3.78),(-1.88,-3.32),(-1.69,-3.72),(-1.50,-3.77),(-1.40,-3.77),(-1.37,-3.82),(-1.19,-3.82),(-1.11,-3.72),(-0.92,-3.60),(-0.87,-3.65),(-0.88,-3.70),(-0.60,-3.66),(-0.65,-3.73),(-0.97,-3.48),(-1.11,-3.27),(-1.21,-3.35),(-1.44,-3.32),(-1.59,-3.47),(-1.53,-3.47),(-1.37,-3.45),(-1.34,-3.50),(-0.98,-3.33),(-0.72,-3.33),(-0.47,-3.33),(-0.39,-3.38),(-0.25,-3.27),(-0.47,-3.22),(-0.57,-3.17),(-0.31,-3.11),(-0.25,-3.09),(-0.59,-3.01),(-0.65,-2.96),(-0.97,-3.20),(-0.95,-3.07),(-1.05,-3.10),(-0.82,-3.02),(-0.89,-2.84),(-1.02,-2.82),(-1.11,-2.82),(-1.24,-2.82),(-1.36,-2.88),(-1.29,-2.96),(-1.35,-3.11),(-1.44,-3.08),(-1.50,-3.07),(-1.60,-2.91),(-1.75,-2.93),(-1.75,-2.85),(-1.97,-2.96),(-2.24,-3.09),(-1.97,-2.81),(-2.11,-2.74),(-2.05,-2.67),(-2.13,-2.62),(-2.24,-2.68),(-2.44,-2.71),(-2.41,-2.56),(-2.06,-2.39),(-2.03,-2.33),(-2.25,-2.42),(-2.31,-2.36),(-2.23,-2.22),(-2.57,-2.22),(-2.03,-2.16),(-1.93,-2.13),(-1.88,-2.14),(-1.72,-2.50),(-1.62,-2.59),(-1.71,-2.74),(-1.53,-2.26),(-1.54,-2.35),(-1.65,-2.42),(-1.53,-2.39),(-1.33,-2.27),(-1.06,-2.19),(-1.29,-2.22),(-1.34,-2.62),(-1.31,-2.49),(-1.18,-2.48),(-1.18,-2.54),(-1.08,-2.41),(-0.97,-2.41),(-0.87,-2.41),(-0.80,-2.32),(-0.80,-2.43),(-1.08,-2.52),(-1.02,-2.52),(-0.92,-2.52),(-0.98,-2.64),(-1.13,-2.69),(-1.21,-2.69),(-1.37,-2.74),(-1.29,-2.74),(-0.69,-2.51),(-0.53,-2.58),(-0.61,-2.61),(-0.71,-2.69),(-0.46,-2.82),(-0.40,-2.73),(-0.26,-2.74),(-0.20,-2.68),(-0.13,-2.64),(-0.19,-2.76),(0.12,-2.48),(0.20,-2.89),(0.18,-2.96),(0.33,-2.98),(0.46,-2.98),(0.38,-3.07),(0.57,-3.00),(0.54,-2.85),(0.14,-3.15),(0.36,-2.57),(0.39,-2.62),(0.59,-2.65),(0.67,-2.64),(0.67,-2.59),(0.80,-2.64),(1.01,-2.96),(1.08,-3.09),(1.08,-2.65),(1.25,-2.62),(1.53,-2.77),(1.75,-2.78),(1.81,-2.73),(1.87,-2.77),(2.07,-2.85),(2.20,-2.97),(1.99,-3.02),(2.14,-2.66),(1.71,-2.51),(1.71,-2.61),(1.73,-2.49),(2.05,-2.50),(2.08,-2.50),(2.05,-2.41),(1.51,-2.41),(1.42,-2.45),(1.53,-2.48),(1.53,-2.54),(1.27,-2.39),(1.08,-2.42),(1.01,-2.27),(1.34,-2.27),(1.14,-2.15),(0.68,-2.21),(0.53,-2.29),(0.70,-2.47),(0.89,-2.36),(0.91,-2.18),(0.37,-2.13),(0.01,-2.21),(0.03,-2.32),(0.06,-2.37),(-0.12,-2.27),(-0.06,-2.41),(-0.16,-2.11),(-0.10,-2.12),(-0.05,-2.13),(-0.01,-2.13),(-0.25,-2.12),(-0.29,-2.37),(-0.36,-2.39),(-0.39,-2.46),(-0.49,-2.22),(-0.71,-2.12),(2.46,-2.36),(2.29,-2.39),(2.19,-2.25),(2.25,-2.29),(2.45,-2.11),(2.54,-2.26),(2.64,-2.16),(2.94,-2.20),(2.87,-2.33),(3.06,-2.28),(3.14,-2.21),(2.99,-2.37),(3.50,-2.22),(3.59,-2.33),(3.55,-2.42),(3.69,-2.24),(3.34,-2.37),(3.33,-2.59),(2.81,-2.39),(2.72,-2.45),(2.59,-2.46),(2.66,-2.53),(2.78,-2.53),(2.70,-2.62),(2.80,-2.75),(1.62,-2.20),(1.71,-2.18),(1.84,-2.26),
]

scores = np.array(scores_top + scores_mid_upper + scores_far_left + scores_band_right
                  + scores_band_left + scores_right + scores_low_centre)

# Loadings (arrow tips) and their labels
var_names = ["tcilow", "saga", "T03", "T09", "texture", "vd", "slope", "tri", "S06",
             "S12", "ssubtype", "vertd", "sh", "hst", "po", "topex", "hno"]
load_pc1 = [-6.48, -5.33, -6.64, -6.64, -2.48, 0.0, 3.12, 5.08, 5.39,
            6.03, 1.42, 6.05, 4.49, 5.24, -1.74, -1.15, 1.79]
load_pc2 = [0.33, 0.02, -0.03, -0.03, 0.0, 5.23, 0.74, 0.76, 0.40,
            0.20, 0.07, -0.64, -1.71, -1.87, -3.26, -4.26, -4.65]
label_pc1 = [-8.01, -6.02, -7.56, -7.57, -4.25, 0.01, 3.10, 4.95, 5.39,
             6.18, 1.58, 6.11, 4.05, 5.26, -2.38, -2.61, 1.81]
label_pc2 = [0.48, 0.515, -0.515, -1.07, -0.525, 5.37, 0.88, 0.96, 0.53,
             0.04, -0.23, -1.15, -2.20, -2.36, -3.74, -4.75, -5.13]

x_ticks = [-10, -5, 0, 5, 10, 15]
x_tick_labels = ["-10", "", "0", "", "10", ""]
y_ticks = [-6, -4, -2, 0, 2, 4, 6]
y_tick_labels = ["-6", "", "-2", "", "2", "", "6"]

INK = "#111111"
W, H = 3072, 1623
plt.rcParams["font.family"] = ["Liberation Sans", "DejaVu Sans"]
plt.rcParams["font.weight"] = "bold"

fig = plt.figure(figsize=(W / 100, H / 100), dpi=100, facecolor="white")
L, R, T, B = 178.6, 3044.0, 33.0, 1432.5
ax = fig.add_axes([L / W, 1 - B / H, (R - L) / W, (B - T) / H])
ax.set_xlim(-10.10, 15.30)
ax.set_ylim(-6.115, 6.31)

ax.plot(scores[:, 0], scores[:, 1], ls="none", marker="o", ms=4.5, mfc="none",
        mec=INK, mew=1.1, zorder=2)

for x, y in zip(load_pc1, load_pc2):
    ax.annotate("", xy=(x, y), xytext=(0, 0), zorder=3,
                arrowprops=dict(arrowstyle="-|>,head_length=16,head_width=6.5",
                                mutation_scale=1, lw=2.4, color=INK,
                                shrinkA=0, shrinkB=0))

for name, x, y in zip(var_names, label_pc1, label_pc2):
    ax.text(x, y, name, fontsize=44, fontweight="bold", color=INK,
            ha="left", va="baseline", zorder=4)

ax.set_xticks(x_ticks, x_tick_labels)
ax.set_yticks(y_ticks, y_tick_labels)
ax.tick_params(axis="both", length=6.5, width=2.2, color=INK, labelcolor=INK, labelsize=41)
ax.tick_params(axis="x", pad=15)
ax.tick_params(axis="y", pad=8)
for s in ax.spines.values():
    s.set_linewidth(2.8)
    s.set_color(INK)

ax.set_xlabel("PC1- Macroclimate, 44%", fontsize=44, fontweight="bold", color=INK, va="baseline")
ax.xaxis.set_label_coords(0.4995, (B - 1586) / (B - T))
ax.set_ylabel("PC2- Thermic inversion, 16%", fontsize=44, fontweight="bold", color=INK,
              va="baseline", ha="center", rotation=90, rotation_mode="anchor")
ax.yaxis.set_label_coords((83 - L) / (R - L), (B - 737) / (B - T))

fig.savefig("out.png", dpi=100, facecolor="white")
